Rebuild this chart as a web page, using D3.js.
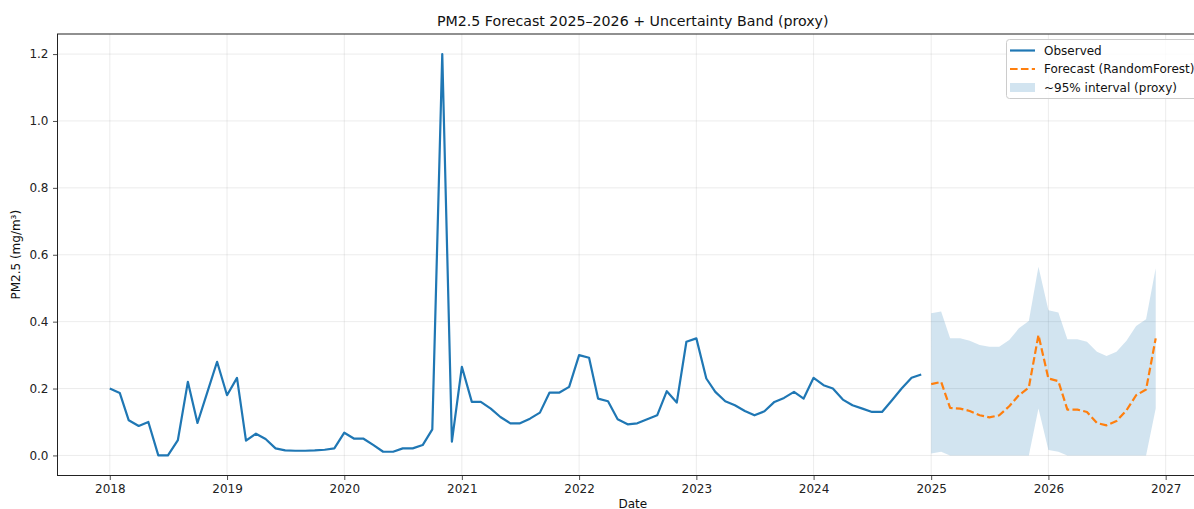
<!DOCTYPE html>
<html>
<head>
<meta charset="utf-8">
<script src="https://cdn.jsdelivr.net/npm/d3@7"></script>
<style>
  html, body { margin: 0; padding: 0; background: #fff; }
  svg { display: block; font-family: "DejaVu Sans", sans-serif; }
</style>
</head>
<body>
<svg id="chart" width="1194" height="509"></svg>
<script>
// ---------------- DATA ----------------
const observedStart = "2018-01-01";
const observedValues = [
  0.200, 0.187, 0.105, 0.088, 0.100, 0.000, 0.000, 0.046, 0.220, 0.097, 0.190, 0.280,
  0.180, 0.232, 0.044, 0.065, 0.049, 0.021, 0.015, 0.014, 0.014, 0.015, 0.017, 0.021,
  0.068, 0.050, 0.050, 0.031, 0.011, 0.011, 0.021, 0.021, 0.031, 0.078, 1.200, 0.041,
  0.265, 0.160, 0.160, 0.140, 0.115, 0.096, 0.096, 0.110, 0.128, 0.188, 0.188, 0.205,
  0.300, 0.292, 0.170, 0.162, 0.108, 0.093, 0.096, 0.108, 0.120, 0.192, 0.158, 0.340,
  0.350, 0.230, 0.190, 0.162, 0.150, 0.133, 0.120, 0.132, 0.160, 0.172, 0.190, 0.170,
  0.232, 0.210, 0.200, 0.167, 0.150, 0.140, 0.130, 0.130, 0.165, 0.200, 0.232, 0.242
];
const forecastStart = "2025-01-01";
const forecastValues = [
  0.213, 0.220, 0.142, 0.140, 0.133, 0.120, 0.114, 0.120, 0.147, 0.180, 0.203, 0.360,
  0.230, 0.222, 0.137, 0.137, 0.130, 0.097, 0.090, 0.103, 0.135, 0.180, 0.197, 0.350
];
const bandUpper = [
  0.425, 0.430, 0.350, 0.350, 0.343, 0.330, 0.325, 0.325, 0.345, 0.380, 0.402, 0.564,
  0.434, 0.427, 0.347, 0.347, 0.340, 0.310, 0.297, 0.310, 0.343, 0.387, 0.407, 0.560
];
const bandLower = [
  0.006, 0.011, 0.000, 0.000, 0.000, 0.000, 0.000, 0.000, 0.000, 0.000, 0.000, 0.140,
  0.016, 0.011, 0.000, 0.000, 0.000, 0.000, 0.000, 0.000, 0.000, 0.000, 0.000, 0.140
];
const yTickValues = [0.0, 0.2, 0.4, 0.6, 0.8, 1.0, 1.2];
const titleText = "PM2.5 Forecast 2025–2026 + Uncertainty Band (proxy)";
const xLabelText = "Date";
const yLabelText = "PM2.5 (mg/m³)";
const legendLabels = ["Observed", "Forecast (RandomForest)", "~95% interval (proxy)"];

// ---------------- BUILD ----------------
const parse = d3.utcParse("%Y-%m-%d");
function monthly(start, n) {
  const s = parse(start);
  return d3.range(n).map(i => d3.utcMonth.offset(s, i));
}
const obsDates = monthly(observedStart, observedValues.length);
const fcDates = monthly(forecastStart, forecastValues.length);
const observed = obsDates.map((d, i) => ({ date: d, v: observedValues[i] }));
const forecast = fcDates.map((d, i) => ({ date: d, v: forecastValues[i], lo: bandLower[i], hi: bandUpper[i] }));

const svg = d3.select("#chart");
const pL = 57.5, pR = 1208, pT = 34, pB = 475.5;

const x0 = obsDates[0], x1 = fcDates[fcDates.length - 1];
const pad = 0.05 * (x1 - x0);
const x = d3.scaleUtc()
  .domain([new Date(+x0 - pad), new Date(+x1 + pad)])
  .range([pL, pR]);

const allLo = d3.min([d3.min(observedValues), d3.min(forecastValues), d3.min(bandLower)]);
const allHi = d3.max([d3.max(observedValues), d3.max(forecastValues), d3.max(bandUpper)]);
const ypad = 0.05 * (allHi - allLo);
const y = d3.scaleLinear().domain([allLo - ypad, allHi + ypad]).range([pB, pT]);

const xTicks = d3.utcYear.range(d3.utcYear.ceil(x.domain()[0]), x.domain()[1]);

// grid
const grid = svg.append("g");
grid.selectAll("line.gx").data(xTicks).join("line")
  .attr("x1", d => x(d)).attr("x2", d => x(d))
  .attr("y1", pT).attr("y2", pB)
  .attr("stroke", "#b0b0b0").attr("stroke-opacity", 0.3).attr("stroke-width", 0.8);
grid.selectAll("line.gy").data(yTickValues).join("line")
  .attr("x1", pL).attr("x2", pR)
  .attr("y1", d => y(d)).attr("y2", d => y(d))
  .attr("stroke", "#b0b0b0").attr("stroke-opacity", 0.3).attr("stroke-width", 0.8);

// band
const area = d3.area().x(d => x(d.date)).y0(d => y(d.lo)).y1(d => y(d.hi));
svg.append("path").datum(forecast).attr("d", area)
  .attr("fill", "#1f77b4").attr("fill-opacity", 0.2);

// observed line
const line = d3.line().x(d => x(d.date)).y(d => y(d.v));
svg.append("path").datum(observed).attr("d", line)
  .attr("fill", "none").attr("stroke", "#1f77b4").attr("stroke-width", 2.2)
  .attr("stroke-linejoin", "round").attr("stroke-linecap", "butt");

// forecast line
svg.append("path").datum(forecast).attr("d", line)
  .attr("fill", "none").attr("stroke", "#ff7f0e").attr("stroke-width", 2.2)
  .attr("stroke-dasharray", "7.6,3.3").attr("stroke-linejoin", "round");

// axes
const xAxis = d3.axisBottom(x).tickValues(xTicks).tickFormat(d3.utcFormat("%Y"))
  .tickSize(4.5).tickPadding(4).tickSizeOuter(0);
const gx = svg.append("g").attr("transform", `translate(0,${pB})`).call(xAxis);
gx.select(".domain").remove();
gx.selectAll("text").attr("font-size", "12px").attr("fill", "#222")
  .attr("font-family", "DejaVu Sans, sans-serif");
gx.selectAll("line").attr("stroke", "#222").attr("stroke-width", 0.8);

const yAxis = d3.axisLeft(y).tickValues(yTickValues).tickFormat(d3.format(".1f"))
  .tickSize(4.5).tickPadding(4.5).tickSizeOuter(0);
const gy = svg.append("g").attr("transform", `translate(${pL},0)`).call(yAxis);
gy.select(".domain").remove();
gy.selectAll("text").attr("font-size", "12px").attr("fill", "#222")
  .attr("font-family", "DejaVu Sans, sans-serif");
gy.selectAll("line").attr("stroke", "#222").attr("stroke-width", 0.8);

// spines
svg.append("rect").attr("x", pL).attr("y", pT)
  .attr("width", pR - pL).attr("height", pB - pT)
  .attr("fill", "none").attr("stroke", "#222").attr("stroke-width", 1);

// title & labels
svg.append("text").attr("x", (pL + pR) / 2).attr("y", 26)
  .attr("text-anchor", "middle").attr("font-size", "14.2px").attr("fill", "#111")
  .text(titleText);
svg.append("text").attr("x", (pL + pR) / 2).attr("y", 507.5)
  .attr("text-anchor", "middle").attr("font-size", "12px").attr("fill", "#111")
  .text(xLabelText);
svg.append("text")
  .attr("transform", `translate(20,${(pT + pB) / 2}) rotate(-90)`)
  .attr("text-anchor", "middle").attr("font-size", "12px").attr("fill", "#111")
  .text(yLabelText);

// legend
const lg = svg.append("g");
lg.append("rect").attr("x", 1006.5).attr("y", 39.5).attr("width", 200).attr("height", 59)
  .attr("rx", 3).attr("fill", "#fff").attr("fill-opacity", 0.8)
  .attr("stroke", "#cccccc").attr("stroke-width", 1);
const rows = [50.5, 69, 87.5];
lg.append("line").attr("x1", 1010).attr("x2", 1035).attr("y1", rows[0]).attr("y2", rows[0])
  .attr("stroke", "#1f77b4").attr("stroke-width", 2.2);
lg.append("line").attr("x1", 1010).attr("x2", 1035).attr("y1", rows[1]).attr("y2", rows[1])
  .attr("stroke", "#ff7f0e").attr("stroke-width", 2.2).attr("stroke-dasharray", "7.6,3.3");
lg.append("rect").attr("x", 1010).attr("y", rows[2] - 4.5).attr("width", 25).attr("height", 9)
  .attr("fill", "#1f77b4").attr("fill-opacity", 0.2);
lg.selectAll("text.lt").data(legendLabels).join("text")
  .attr("x", 1044).attr("y", (d, i) => rows[i]).attr("dy", "0.35em")
  .attr("font-size", "12px").attr("fill", "#111").text(d => d);
</script>
</body>
</html>
